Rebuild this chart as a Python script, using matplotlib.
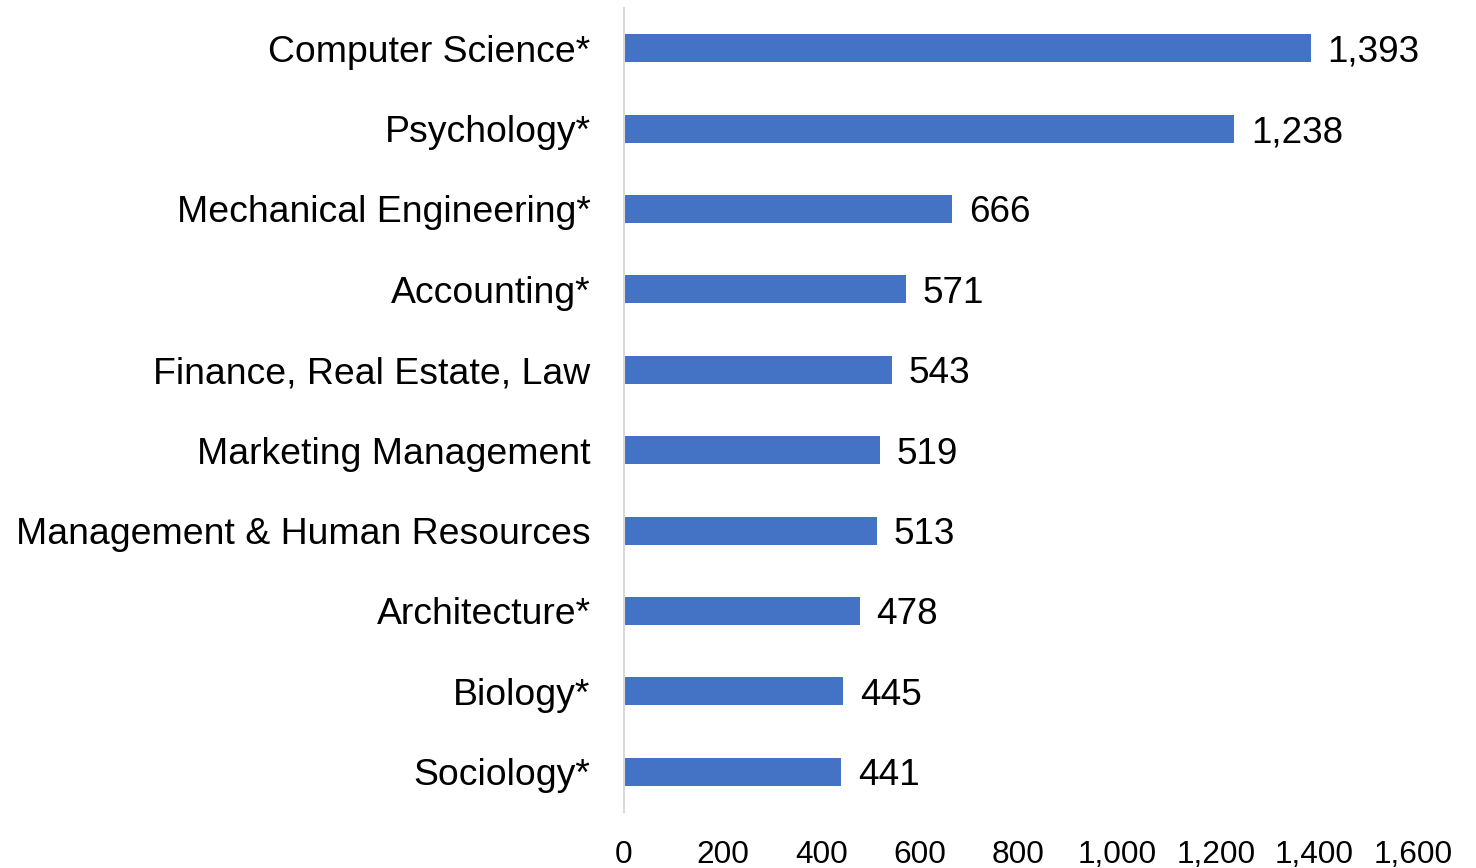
import matplotlib.pyplot as plt
from matplotlib.ticker import FuncFormatter

plt.rcParams['font.family'] = ['Liberation Sans', 'DejaVu Sans']

majors = ["Computer Science*", "Psychology*", "Mechanical Engineering*",
          "Accounting*", "Finance, Real Estate, Law", "Marketing Management",
          "Management & Human Resources", "Architecture*", "Biology*",
          "Sociology*"]
counts = [1393, 1238, 666, 571, 543, 519, 513, 478, 445, 441]
x_ticks = [0, 200, 400, 600, 800, 1000, 1200, 1400, 1600]


def draw(majors, counts):
    fig = plt.figure(figsize=(14.76, 8.68), dpi=100)
    ax = fig.add_axes([624 / 1476, 1 - 812 / 868, (1413 - 624) / 1476, 804 / 868])

    pos = list(range(len(majors)))
    ax.barh(pos, counts, height=0.35, color="#4472C4")
    ax.set_ylim(len(majors) - 0.5, -0.5)
    ax.set_xlim(0, 1600)

    for p, v in zip(pos, counts):
        ax.annotate(f"{v:,}", xy=(v, p), xytext=(12, 0), textcoords="offset points",
                    va="center_baseline", ha="left", fontsize=26.6)

    ax.set_yticks(pos)
    ax.set_yticklabels(majors, fontsize=26.9)
    ax.set_xticks(x_ticks)
    ax.xaxis.set_major_formatter(FuncFormatter(lambda v, _: f"{int(v):,}"))
    ax.tick_params(axis="x", labelsize=22.8, length=0, pad=20)
    ax.tick_params(axis="y", length=0, pad=24)

    for s in ["top", "right", "bottom"]:
        ax.spines[s].set_visible(False)
    ax.spines["left"].set_color("#D9D9D9")
    ax.spines["left"].set_linewidth(1.5)

    fig.savefig("out.png", dpi=100)


if __name__ == '__main__':
    draw(majors, counts)
